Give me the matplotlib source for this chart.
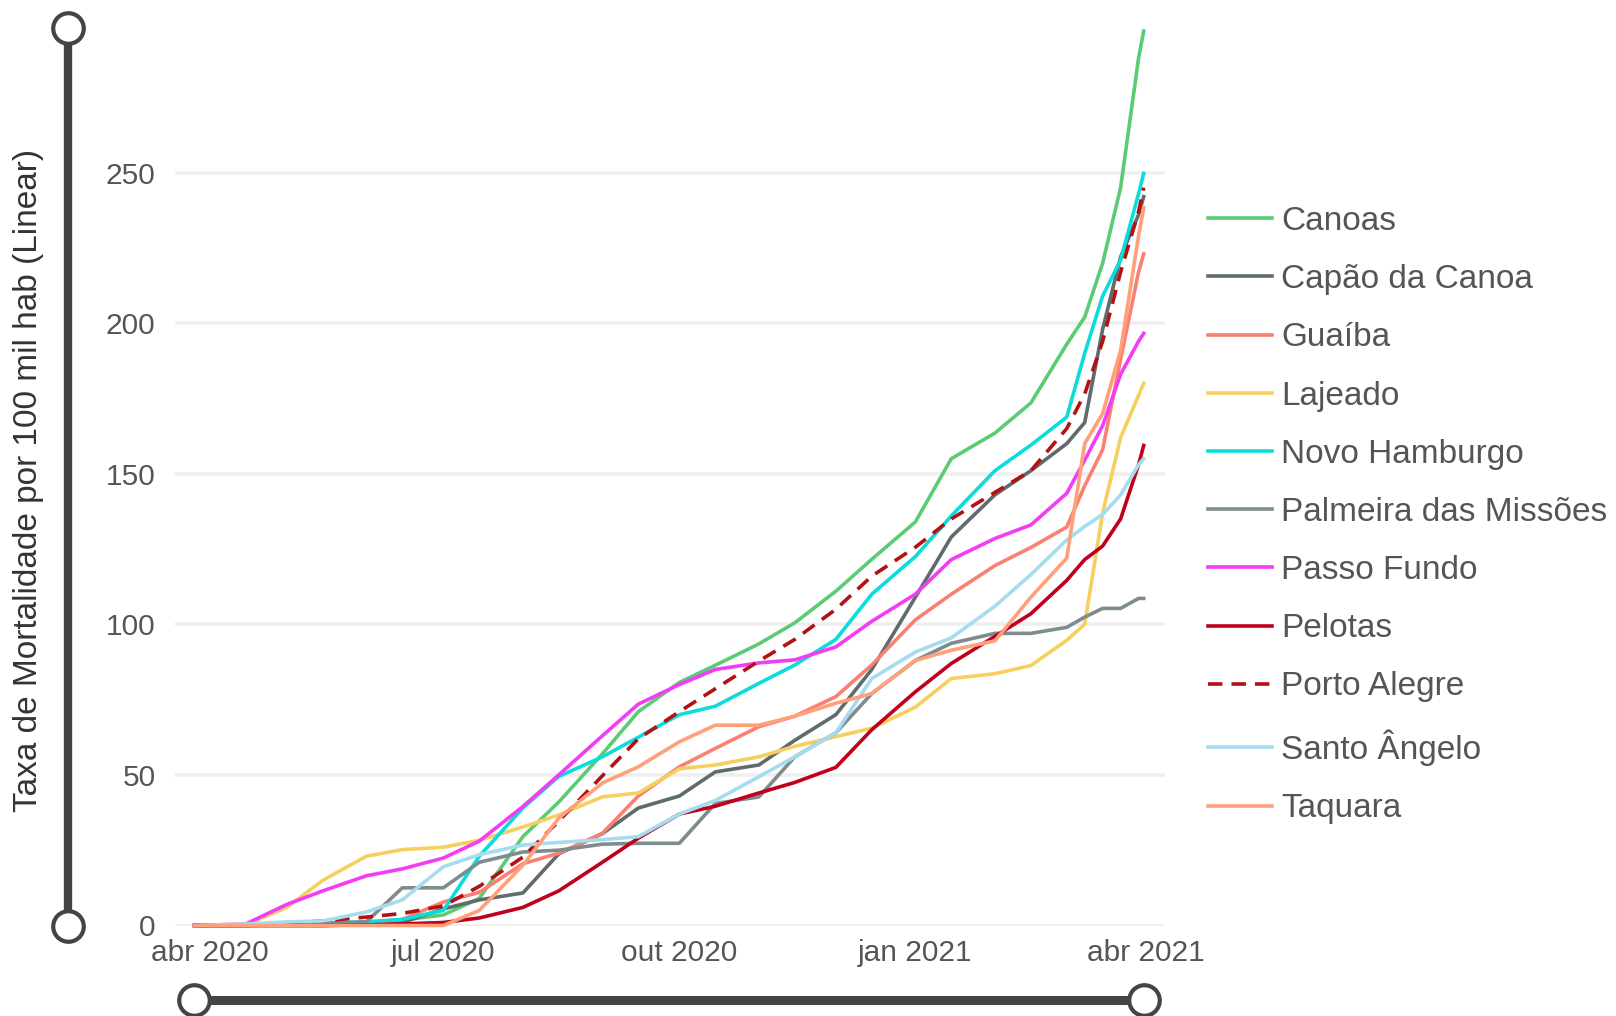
import pandas as pd
import matplotlib
matplotlib.use('Agg')
import matplotlib.pyplot as plt
import matplotlib.dates as mdates

plt.rcParams['font.family'] = ['Liberation Sans', 'DejaVu Sans']

# datas de leitura (cumulativo por 100 mil hab)
dates = ['2020-03-26', '2020-04-15', '2020-05-01', '2020-05-15', '2020-06-01', '2020-06-15',
         '2020-07-01', '2020-07-15', '2020-08-01', '2020-08-15', '2020-09-01', '2020-09-15',
         '2020-10-01', '2020-10-15', '2020-11-01', '2020-11-15', '2020-12-01', '2020-12-15',
         '2021-01-01', '2021-01-15', '2021-02-01', '2021-02-15', '2021-03-01', '2021-03-08',
         '2021-03-15', '2021-03-22', '2021-03-29', '2021-03-31']

canoas = [0, 0, 0.3, 0.6, 1, 1.8, 3.5, 9, 29.5, 41, 57, 71, 80.7, 86.4, 93.5, 100.5, 111, 121.6,
          134, 155, 163.5, 173.5, 193, 202, 220, 245, 288, 297]
capao_da_canoa = [0, 0, 0, 0, 0.3, 1, 5.5, 8.5, 10.8, 23.8, 30.5, 39, 43, 51, 53.3, 61.5, 70, 85,
                  109, 129, 143, 151, 160, 167, 198, 222, 236, 242]
guaiba = [0, 0, 0.3, 0.5, 1, 2, 7.8, 11, 20.5, 24, 30.6, 43, 52.7, 58.8, 66, 69.5, 76, 86.5,
          101.5, 110, 119.5, 125.5, 132.3, 146, 158, 188, 217, 223]
lajeado = [0, 0.2, 6, 15, 23, 25.2, 26, 28.3, 32.7, 36.7, 42.7, 44, 52, 53.3, 56, 59.5, 62.7, 65.5,
           72.5, 82, 83.6, 86.3, 94.7, 100, 137, 162, 176, 180]
novo_hamburgo = [0, 0.3, 0.6, 0.8, 1.2, 2, 5, 23, 39, 49.5, 56, 62.5, 70, 72.8, 80.4, 86.5, 95, 110,
                 122.5, 136, 151, 159.5, 168.8, 190, 209, 221, 243, 249.7]
palmeira = [0, 0, 0.3, 0.7, 1.2, 12.5, 12.5, 21, 24.4, 25, 27, 27.3, 27.3, 40.5, 42.7, 56, 64, 77,
            88, 93.7, 97, 97, 99, 102.4, 105.3, 105.3, 108.6, 108.6]
passo_fundo = [0, 0.5, 7, 11.5, 16.5, 18.8, 22.4, 28, 39.5, 50, 63, 73.5, 80, 85, 87.2, 88.2, 92.5, 101,
               110, 121.5, 128.5, 133, 143.5, 154.5, 166, 183, 194, 196.6]
pelotas = [0, 0, 0, 0, 0.2, 0.5, 1, 2.5, 6, 11.5, 21, 29, 37, 39.6, 44, 47.5, 52.5, 65,
           77.6, 87, 96, 103.5, 114.6, 121.5, 126, 135, 153, 159.4]
porto_alegre = [0, 0.3, 0.8, 1.5, 2.8, 4, 6.5, 13, 22.7, 34.7, 49.7, 62, 71, 78.6, 87.8, 95, 105, 116,
                125.6, 135, 143.8, 151, 165, 176.5, 194, 217, 237, 245]
santo_angelo = [0, 0.5, 1.2, 1.5, 4.5, 8.5, 19.5, 23.5, 26.7, 27.6, 28.5, 29.5, 37, 41.5, 49.4, 56, 64, 82,
                90.8, 95.5, 106, 116.5, 128, 132.5, 136.5, 143, 153, 155]
taquara = [0, 0, 0, 0, 0, 0, 0, 5, 20, 35.7, 47.3, 52.7, 61, 66.5, 66.5, 69.5, 73.8, 77,
           88, 91.4, 94.5, 109, 122, 160, 170, 191, 229, 238.4]

series = [
    ('Canoas', canoas, '#5bcc74', '-'),
    ('Capão da Canoa', capao_da_canoa, '#5f6b6d', '-'),
    ('Guaíba', guaiba, '#fa8072', '-'),
    ('Lajeado', lajeado, '#f4d05e', '-'),
    ('Novo Hamburgo', novo_hamburgo, '#0bdcdc', '-'),
    ('Palmeira das Missões', palmeira, '#7f8c8d', '-'),
    ('Passo Fundo', passo_fundo, '#f33cf5', '-'),
    ('Pelotas', pelotas, '#c0001d', '-'),
    ('Porto Alegre', porto_alegre, '#b21212', (0, (4, 2.5))),
    ('Santo Ângelo', santo_angelo, '#a6dcef', '-'),
    ('Taquara', taquara, '#ffa07a', '-'),
]

tick_dates = ['2020-04-01', '2020-07-01', '2020-10-01', '2021-01-01', '2021-04-01']
tick_labels = ['abr 2020', 'jul 2020', 'out 2020', 'jan 2021', 'abr 2021']
y_ticks = [0, 50, 100, 150, 200, 250]

text_color = '#555555'
slider_color = '#444444'

W, H = 1616, 1016
fig = plt.figure(figsize=(W / 100, H / 100), dpi=100)

ax_left, ax_right, ax_top, ax_bottom = 175, 1165, 28, 925.5
ax = fig.add_axes([ax_left / W, 1 - ax_bottom / H, (ax_right - ax_left) / W, (ax_bottom - ax_top) / H])

x = pd.to_datetime(dates)
for name, vals, color, ls in series:
    ax.plot(x, vals, color=color, linestyle=ls, linewidth=2.6, label=name, clip_on=False, zorder=3)

x0 = pd.Timestamp('2020-04-01') - pd.Timedelta(days=13.6)
x1 = pd.Timestamp('2020-04-01') + pd.Timedelta(days=372.3)
ax.set_xlim(x0, x1)
ax.set_ylim(0, 298)

ax.set_xticks(pd.to_datetime(tick_dates))
ax.set_xticklabels(tick_labels)
ax.set_yticks(y_ticks)
ax.tick_params(axis='both', length=0, labelsize=21.5, colors=text_color)
ax.tick_params(axis='x', pad=10)
ax.tick_params(axis='y', pad=14)
ax.grid(axis='y', color='#efefef', linewidth=2.6, zorder=0)
ax.grid(axis='x', visible=False)
for s in ax.spines.values():
    s.set_visible(False)

fig.text(29 / W, 1 - 480 / H, 'Taxa de Mortalidade por 100 mil hab (Linear)', rotation=90,
         ha='center', va='center', fontsize=24, color='#333333')

leg = ax.legend(loc='upper left', bbox_to_anchor=(1208 / W, 1 - 206 / H), bbox_transform=fig.transFigure,
                frameon=False, fontsize=24, handlelength=1.92, handletextpad=0.27,
                labelspacing=0.815, borderaxespad=0, borderpad=0)
for t in leg.get_texts():
    t.set_color(text_color)

# barras de zoom (decoracao estilo range slider)
ov = fig.add_axes([0, 0, 1, 1], zorder=-1)
ov.set_xlim(0, W)
ov.set_ylim(H, 0)
ov.axis('off')

ov.plot([68, 68], [ax_top, ax_bottom], color=slider_color, linewidth=6, solid_capstyle='butt')
ov.plot([68, 68], [ax_top, ax_bottom], linestyle='none', marker='o', markersize=22,
        markerfacecolor='white', markeredgecolor=slider_color, markeredgewidth=3)

n0 = mdates.date2num(x[0])
n1 = mdates.date2num(x[-1])
nl, nr = mdates.date2num(x0), mdates.date2num(x1)
px0 = ax_left + (n0 - nl) / (nr - nl) * (ax_right - ax_left)
px1 = ax_left + (n1 - nl) / (nr - nl) * (ax_right - ax_left)
ov.plot([px0, px1], [1000, 1000], color=slider_color, linewidth=6.5, solid_capstyle='butt')
ov.plot([px0, px1], [1000, 1000], linestyle='none', marker='o', markersize=22,
        markerfacecolor='white', markeredgecolor=slider_color, markeredgewidth=3)

fig.savefig('out.png', dpi=100)
